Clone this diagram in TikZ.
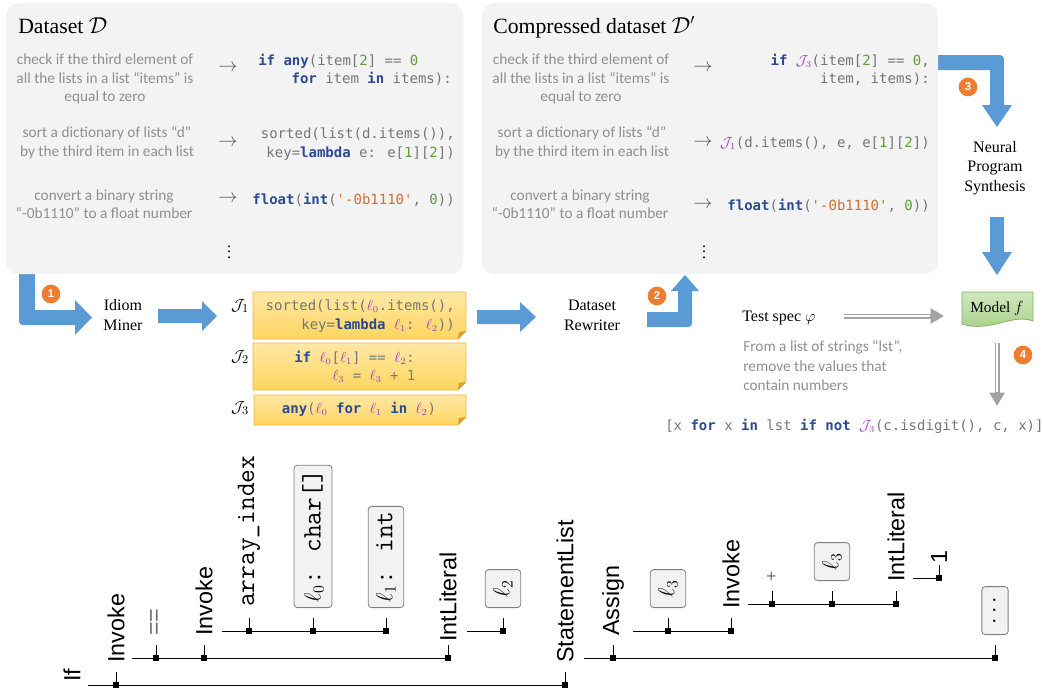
\documentclass[tikz,border=0pt]{standalone}
\usepackage{fontspec}
\setmainfont{Liberation Serif}
\newfontfamily\descfont{Carlito}
\newfontfamily\codefont[Ligatures=TeXOff]{DejaVu Sans Mono}
\newfontfamily\treefont{Liberation Sans}
\usetikzlibrary{arrows.meta,calc}
\definecolor{kwc}{HTML}{2B4A92}
\definecolor{codegray}{HTML}{767676}
\definecolor{numc}{HTML}{5E9C3A}
\definecolor{strc}{HTML}{D0702E}
\definecolor{idic}{HTML}{A040B8}
\definecolor{descgray}{HTML}{8F8F8F}
\definecolor{panelc}{HTML}{F3F3F3}
\definecolor{blueA}{HTML}{5B9BD5}
\definecolor{badgec}{HTML}{ED7D31}
\definecolor{arrowgray}{HTML}{555555}
\definecolor{arrgray}{HTML}{A3A3A3}
\definecolor{idtop}{HTML}{FFE8A6}
\definecolor{idbot}{HTML}{FFD560}
\definecolor{idedge}{HTML}{F2B53A}
\definecolor{idfold}{HTML}{D9A02C}
\definecolor{mtop}{HTML}{CFE7BD}
\definecolor{mbot}{HTML}{A6CF89}
\definecolor{medge}{HTML}{7DB35A}
\definecolor{tboxc}{HTML}{7F7F7F}
\definecolor{tboxf}{HTML}{F2F2F2}
\definecolor{opgray}{HTML}{6E6E6E}
\newcommand{\kwd}[1]{\textcolor{kwc}{\bfseries #1}}
\newcommand{\nmc}[1]{\textcolor{numc}{#1}}
\newcommand{\cstr}[1]{\textcolor{strc}{#1}}
\newcommand{\lv}[1]{\textcolor{idic}{$\ell_{#1}$}}
\newcommand{\idm}[1]{\textcolor{idic}{$\mathcal{J}_{#1}$}}
\newcommand{\tmono}{\ttfamily\fontsize{20}{22}\selectfont}
\newcommand{\ideabox}[4]{%
  \path[top color=idtop, bottom color=idbot, draw=idedge, line width=0.6pt]
    (#1,#2) -- (#3,#2) -- (#3,#4-8) -- (#3-8,#4) -- (#1,#4) -- cycle;
  \fill[idfold] (#3-8,#4) -- (#3,#4-8) -- (#3-7,#4-7) -- cycle;}
\tikzset{
  codeln/.style={font=\codefont\fontsize{10.5}{14}\selectfont, text=codegray, inner sep=0pt},
  descln/.style={font=\descfont\fontsize{11.5}{14}\selectfont, text=descgray, inner sep=0pt, anchor=base},
  seriflab/.style={font=\rmfamily\fontsize{12}{15}\selectfont, inner sep=0pt, anchor=base},
  ttl/.style={font=\rmfamily\fontsize{16.3}{19}\selectfont, inner sep=0pt, anchor=base west},
  rarrow/.style={font=\fontsize{14}{16}\selectfont, text=arrowgray, inner sep=0pt},
  badge/.style={circle, fill=badgec, text=white, font=\treefont\bfseries\fontsize{8.5}{9}\selectfont, minimum size=14pt, inner sep=0pt},
  sq/.style={fill=black, minimum size=5pt, inner sep=0pt},
  tline/.style={line width=0.75pt, draw=black},
  tlab/.style={rotate=90, anchor=west, inner sep=0pt, font=\treefont\fontsize{17.5}{20}\selectfont},
  tbox/.style={rotate=90, anchor=west, draw=tboxc, fill=tboxf, rounded corners=2.5pt, inner xsep=3.75pt, inner ysep=6pt, minimum width=28.5pt, line width=0.6pt, font=\fontsize{17.5}{20}\selectfont},
  jlab/.style={font=\fontsize{13}{15}\selectfont, inner sep=0pt, anchor=base},
  garrowbg/.style={draw=arrgray, line width=3.75pt, -{Triangle[length=10pt,width=11pt]}},
  garrowfg/.style={draw=white, line width=1.5pt, shorten >=10.5pt},
}
\begin{document}
\begin{tikzpicture}[x=0.75pt,y=-0.75pt]
\useasboundingbox (0,0) rectangle (1042,689);

% blue arrows that start under the panels
\fill[blueA] (19,265) -- (19,317) .. controls (19,325) .. (27,325) -- (75,325) -- (75,335) -- (92,317.5) -- (75,300) -- (75,310) -- (35,310) -- (35,265) -- cycle;
\fill[blueA] (930,55) -- (995,55) .. controls (1004,55) .. (1004,64) -- (1004,105) -- (1012,105) -- (997,127) -- (982,105) -- (990,105) -- (990,70) -- (930,70) -- cycle;

% panels
\fill[panelc, rounded corners=9pt] (6,3) rectangle (463,274);
\fill[panelc, rounded corners=9pt] (482,3) rectangle (938,274);

% ---- left panel
\node[ttl] (t1) at (18,33) {Dataset $\mathcal{D}$};
\node[descln] (d11) at (105,64) {check if the third element of};
\node[descln] (d12) at (105,83) {all the lists in a list “items” is};
\node[descln] (d13) at (105,101) {equal to zero};
\node[rarrow] (a11) at (228,68) {$\rightarrow$};
\node[codeln, anchor=base west] (c11) at (258,65) {\kwd{if} \kwd{any}(item[\nmc{2}] == \nmc{0}};
\node[codeln, anchor=base east] (c12) at (452,83) {\kwd{for} item \kwd{in} items):};
\node[descln] (d21) at (107,137) {sort a dictionary of lists “d”};
\node[descln] (d22) at (107,156) {by the third item in each list};
\node[rarrow] (a12) at (228,143) {$\rightarrow$};
\node[codeln, anchor=base east] (c21) at (455,138) {sorted(list(d.items()),};
\node[codeln, anchor=base east] (c22) at (455,157) {key=\kwd{lambda} e: e[\nmc{1}][\nmc{2}])};
\node[descln] (d31) at (104,200) {convert a binary string};
\node[descln] (d32) at (104,218) {“-0b1110” to a float number};
\node[rarrow] (a13) at (228,199) {$\rightarrow$};
\node[codeln, anchor=base east] (c31) at (455,204) {\kwd{float}(\kwd{int}(\cstr{'-0b1110'}, \nmc{0}))};
\node[inner sep=0pt, font=\fontsize{12}{14}\selectfont] (v1) at (229,248) {$\vdots$};

% ---- right panel
\node[ttl] (t2) at (493,33) {Compressed dataset $\mathcal{D}'$};
\node[descln] (e11) at (581,64) {check if the third element of};
\node[descln] (e12) at (581,83) {all the lists in a list “items” is};
\node[descln] (e13) at (581,101) {equal to zero};
\node[rarrow] (a21) at (703,68) {$\rightarrow$};
\node[codeln, anchor=base east] (f11) at (930,65) {\kwd{if} \idm{3}(item[\nmc{2}] == \nmc{0},};
\node[codeln, anchor=base east] (f12) at (930,83) {item, items):};
\node[descln] (e21) at (582,137) {sort a dictionary of lists “d”};
\node[descln] (e22) at (582,156) {by the third item in each list};
\node[rarrow] (a22) at (703,143) {$\rightarrow$};
\node[codeln, anchor=base east] (f21) at (930,147) {\idm{1}(d.items(), e, e[\nmc{1}][\nmc{2}])};
\node[descln] (e31) at (580,200) {convert a binary string};
\node[descln] (e32) at (580,218) {“-0b1110” to a float number};
\node[rarrow] (a23) at (703,205) {$\rightarrow$};
\node[codeln, anchor=base east] (f31) at (930,210) {\kwd{float}(\kwd{int}(\cstr{'-0b1110'}, \nmc{0}))};
\node[inner sep=0pt, font=\fontsize{12}{14}\selectfont] (v2) at (704,248) {$\vdots$};

% ---- middle row
\node[badge] (b1) at (51,294) {1};
\node[seriflab] (im1) at (123,310) {Idiom};
\node[seriflab] (im2) at (123,330) {Miner};
\fill[blueA] (158,309) -- (202,309) -- (202,301) -- (217,316) -- (202,331) -- (202,323) -- (158,323) -- cycle;

\ideabox{253}{292}{466}{339}
\ideabox{253}{343}{466}{390}
\ideabox{254}{395}{466}{425}
\node[jlab] (j1) at (240,310) {$\mathcal{J}_1$};
\node[jlab] (j2) at (240,361) {$\mathcal{J}_2$};
\node[jlab] (j3) at (240,412) {$\mathcal{J}_3$};
\node[codeln, anchor=base east] (i11) at (455,310) {sorted(list(\lv{0}.items(),};
\node[codeln, anchor=base east] (i12) at (455,329) {key=\kwd{lambda} \lv{1}: \lv{2}))};
\node[codeln, anchor=base west] (i21) at (294,362) {\kwd{if} \lv{0}[\lv{1}] == \lv{2}:};
\node[codeln, anchor=base west] (i22) at (332,380) {\lv{3} = \lv{3} + \nmc{1}};
\node[codeln, anchor=base] (i31) at (359,413) {\kwd{any}(\lv{0} \kwd{for} \lv{1} \kwd{in} \lv{2})};

\fill[blueA] (477,310) -- (520,310) -- (520,302) -- (536,317) -- (520,332) -- (520,324) -- (477,324) -- cycle;
\node[seriflab] (dr1) at (592,310) {Dataset};
\node[seriflab] (dr2) at (592,330) {Rewriter};
\fill[blueA] (647,312) -- (678,312) -- (678,291) -- (671,291) -- (685,275) -- (699,291) -- (692,291) -- (692,319) .. controls (692,327) .. (684,327) -- (647,327) -- cycle;
\node[badge] (b2) at (657,296) {2};

% ---- right column
\node[badge] (b3) at (968,87) {3};
\node[seriflab] (ns1) at (995,152) {Neural};
\node[seriflab] (ns2) at (995,171) {Program};
\node[seriflab] (ns3) at (995,191) {Synthesis};
\fill[blueA] (990,217) -- (1004,217) -- (1004,252) -- (1012,252) -- (997,275) -- (982,252) -- (990,252) -- cycle;
\path[top color=mtop, bottom color=mbot, draw=medge, line width=0.6pt]
  (962,292) -- (1033,292) -- (1033,321) .. controls (1012,313) and (990,333) .. (962,324) -- cycle;
\node[inner sep=0pt, font=\rmfamily\fontsize{11.5}{13}\selectfont] (model) at (997,308) {Model $f$};

\node[seriflab, anchor=base west] (tspec) at (742,321) {Test spec $\varphi$};
\node[descln, anchor=base west] (s1) at (743,351) {From a list of strings “lst”,};
\node[descln, anchor=base west] (s2) at (743,371) {remove the values that};
\node[descln, anchor=base west] (s3) at (743,390) {contain numbers};
\coordinate (g1a) at (844,316);
\coordinate (g1b) at (944,316);
\draw[garrowbg] (g1a) -- (g1b);
\draw[garrowfg] (g1a) -- (g1b);
\coordinate (g2a) at (997,343);
\coordinate (g2b) at (997,406);
\draw[garrowbg] (g2a) -- (g2b);
\draw[garrowfg] (g2a) -- (g2b);
\node[badge] (b4) at (1023,355) {4};
\node[codeln, anchor=base west] (out) at (665,430) {[x \kwd{for} x \kwd{in} lst \kwd{if} \kwd{not} \idm{3}(c.isdigit(), c, x)]};

% ---- tree
\node[sq] (sinva) at (116,685) {};
\node[sq] (sstl) at (565,685) {};
\node[sq] (seq) at (156,658) {};
\node[sq] (sinvb) at (204,658) {};
\node[sq] (sinta) at (448,658) {};
\node[sq] (sarr) at (249,631) {};
\node[sq] (slz) at (313,631) {};
\node[sq] (slo) at (386,631) {};
\node[sq] (sltw) at (503,631) {};
\node[sq] (sasg) at (613,658) {};
\node[sq] (sdts) at (995,658) {};
\node[sq] (slta) at (668,631) {};
\node[sq] (sinvc) at (731,631) {};
\node[sq] (spls) at (772,604) {};
\node[sq] (sltb) at (832,604) {};
\node[sq] (sintb) at (896,604) {};
\node[sq] (sone) at (939,578) {};

\coordinate (l0s) at (88,685);
\coordinate (l1as) at (132,658);
\coordinate (l2as) at (222,631);
\coordinate (l2bs) at (467,631);
\coordinate (l1bs) at (584,658);
\coordinate (l2cs) at (633,631);
\coordinate (l3s) at (748,604);
\coordinate (l4s) at (913,578);
\draw[tline] (l0s) -- (sstl.center);
\draw[tline] (l1as) -- (sinta.center);
\draw[tline] (l2as) -- (slo.center);
\draw[tline] (l2bs) -- (sltw.center);
\draw[tline] (l1bs) -- (sdts.center);
\draw[tline] (l2cs) -- (sinvc.center);
\draw[tline] (l3s) -- (sintb.center);
\draw[tline] (l4s) -- (sone.center);
\foreach \s in {sinva,sstl,seq,sinvb,sinta,sarr,slz,slo,sltw,sasg,sdts,slta,sinvc,spls,sltb,sintb,sone}
  \draw[tline] (\s.center) -- ++(0,-13);

\node[tlab] (nif) at (72,682) {If};
\node[tlab] (ninva) at (116,663) {Invoke};
\node[tlab] (nstl) at (565,663) {StatementList};
\node[tlab, text=opgray] (neq) at (156,636) {==};
\node[tlab] (ninvb) at (204,636) {Invoke};
\node[tlab] (ninta) at (448,642) {IntLiteral};
\node[tlab, font=\tmono] (narr) at (249,607) {array\_index};
\node[tbox] (nlz) at (313,608) {$\ell_0$\tmono: char[]};
\node[tbox] (nlo) at (386,608) {$\ell_1$\tmono: int};
\node[tbox] (nltw) at (503,608) {$\ell_2$};
\node[tlab] (nasg) at (613,636) {Assign};
\node[tbox, minimum width=36pt] (ndts) at (995,635) {$\cdots$};
\node[tbox] (nlta) at (668,608) {$\ell_3$};
\node[tlab] (ninvc) at (731,609) {Invoke};
\node[tlab, text=opgray, font=\treefont\fontsize{13}{15}\selectfont] (npls) at (772,582) {+};
\node[tbox] (nltb) at (832,581) {$\ell_3$};
\node[tlab] (nintb) at (896,582) {IntLiteral};
\node[tlab] (none) at (939,564) {1};
\end{tikzpicture}
\end{document}
